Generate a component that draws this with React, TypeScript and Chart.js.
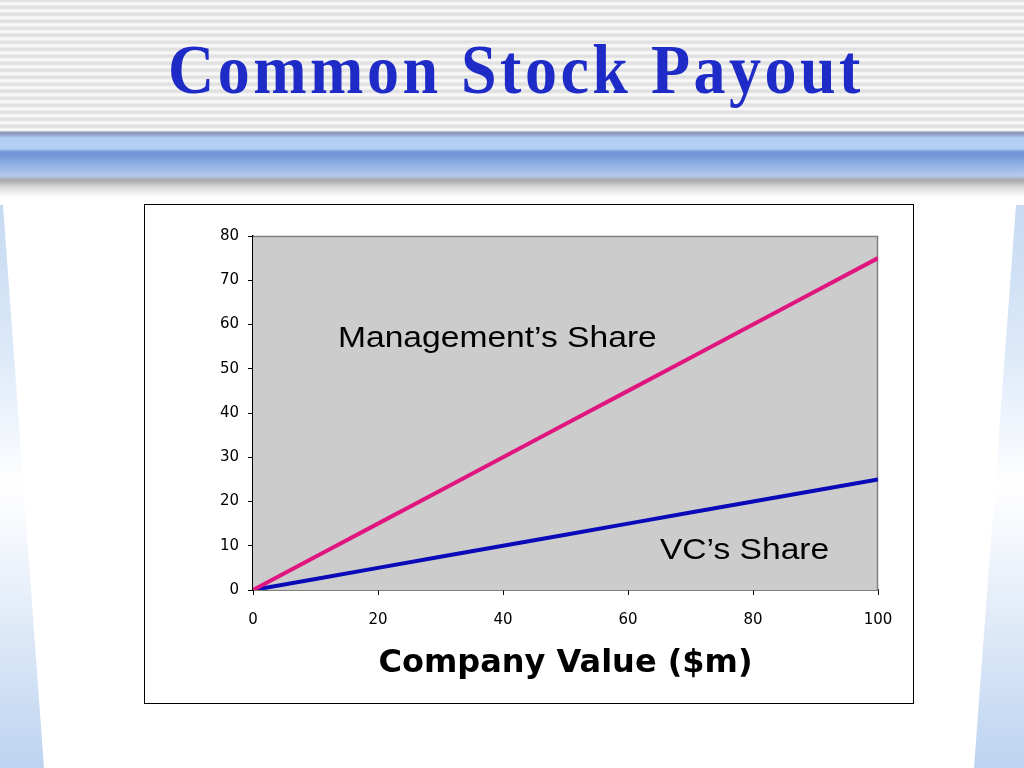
import React, { useEffect, useRef } from "react";
import { Chart, registerables } from "chart.js";

Chart.register(...registerables);

// ---- data ----
const companyValues = [0, 10, 20, 30, 40, 50, 60, 70, 80, 90, 100];
const managementShare = [0, 7.5, 15, 22.5, 30, 37.5, 45, 52.5, 60, 67.5, 75];
const vcShare = [0, 2.5, 5, 7.5, 10, 12.5, 15, 17.5, 20, 22.5, 25];
const seriesNames = ["Management’s Share", "VC’s Share"];
const labelAnchorX = [13.6, 65.1];
const labelAnchorY = [55.0, 6.9];
const titleText = "Common Stock Payout";
const xAxisTitle = "Company Value ($m)";

const MAGENTA = "#E0157F";
const BLUE = "#0A0AB8";

const plotBgPlugin = {
  id: "plotBg",
  beforeDatasetsDraw(chart: any) {
    const { ctx, chartArea } = chart;
    const { left, top, right, bottom } = chartArea;
    ctx.save();
    ctx.fillStyle = "#CCCCCC";
    ctx.fillRect(left, top, right - left, bottom - top);
    ctx.strokeStyle = "#808080";
    ctx.lineWidth = 1.5;
    ctx.beginPath();
    ctx.moveTo(left, top + 0.5);
    ctx.lineTo(right - 0.5, top + 0.5);
    ctx.lineTo(right - 0.5, bottom);
    ctx.stroke();
    ctx.restore();
  },
};

const seriesLabelPlugin = {
  id: "seriesLabels",
  afterDatasetsDraw(chart: any) {
    const { ctx, scales } = chart;
    ctx.save();
    ctx.fillStyle = "#000";
    ctx.font = "30px 'Liberation Sans', Arial, sans-serif";
    ctx.textAlign = "left";
    ctx.textBaseline = "alphabetic";
    seriesNames.forEach((name, i) => {
      const px = scales.x.getPixelForValue(labelAnchorX[i]);
      const py = scales.y.getPixelForValue(labelAnchorY[i]);
      ctx.save();
      ctx.translate(px, py);
      ctx.scale(1.12, 1);
      ctx.fillText(name, 0, 0);
      ctx.restore();
    });
    ctx.restore();
  },
};

function ChartBox() {
  const ref = useRef<HTMLCanvasElement | null>(null);
  useEffect(() => {
    if (!ref.current) return;
    const chart = new Chart(ref.current, {
      type: "line",
      data: {
        datasets: [
          {
            label: seriesNames[0],
            data: companyValues.map((x, i) => ({ x, y: managementShare[i] })),
            borderColor: MAGENTA,
            borderWidth: 4,
            pointRadius: 0,
            fill: false,
          },
          {
            label: seriesNames[1],
            data: companyValues.map((x, i) => ({ x, y: vcShare[i] })),
            borderColor: BLUE,
            borderWidth: 4,
            pointRadius: 0,
            fill: false,
          },
        ],
      },
      options: {
        animation: false,
        responsive: false,
        maintainAspectRatio: false,
        layout: { padding: { left: 0, right: 35, top: 31, bottom: 0 } },
        plugins: { legend: { display: false }, tooltip: { enabled: false } },
        scales: {
          x: {
            type: "linear",
            min: 0,
            max: 100,
            ticks: {
              stepSize: 20,
              color: "#000",
              padding: 16,
              font: { family: "'DejaVu Sans', Verdana, sans-serif", size: 15 },
            },
            grid: { drawOnChartArea: false, drawTicks: true, tickLength: 5, color: "#000" },
            border: { display: true, color: "#000", width: 1.5 },
            title: {
              display: true,
              text: xAxisTitle,
              color: "#000",
              padding: { top: 0, bottom: 20 },
              font: { family: "'DejaVu Sans', Verdana, sans-serif", size: 32, weight: "bold" },
            },
            afterFit: (s: any) => {
              s.height = 113;
            },
          },
          y: {
            type: "linear",
            min: 0,
            max: 80,
            ticks: {
              stepSize: 10,
              color: "#000",
              padding: 9,
              font: { family: "'DejaVu Sans', Verdana, sans-serif", size: 15 },
            },
            grid: { drawOnChartArea: false, drawTicks: true, tickLength: 5, color: "#000" },
            border: { display: true, color: "#000", width: 1.5 },
            afterFit: (s: any) => {
              s.width = 108;
            },
          },
        },
      } as any,
      plugins: [plotBgPlugin, seriesLabelPlugin],
    });
    return () => chart.destroy();
  }, []);
  return <canvas ref={ref} width={768} height={498} style={{ display: "block", width: 768, height: 498 }} />;
}

export default function App() {
  useEffect(() => {
    document.body.style.margin = "0";
  }, []);
  return (
    <div
      style={{
        position: "absolute",
        left: 0,
        top: 0,
        width: 1024,
        height: 768,
        overflow: "hidden",
        background: "#ffffff",
      }}
    >
      {/* striped header */}
      <div
        style={{
          position: "absolute",
          left: 0,
          top: 0,
          width: 1024,
          height: 131,
          background:
            "repeating-linear-gradient(to bottom, #dedede 0px, #e8e8e8 2px, #fbfbfb 3px, #f4f4f4 5px, #e2e2e2 6px, #dedede 7px)",
        }}
      />
      {/* blue band */}
      <div
        style={{
          position: "absolute",
          left: 0,
          top: 131,
          width: 1024,
          height: 66,
          background:
            "linear-gradient(to bottom, #c8c8d0 0px, #8890b4 2px, #9eb4dc 5px, #b2d0f4 7px, #b0cff2 18px, #7a9fdc 20px, #6e94d6 23px, #86a8e0 30px, #b4caee 45px, #b0b8c8 47px, #a8a8a8 49px, #d8d8d8 56px, #ffffff 66px)",
        }}
      />
      {/* left side decoration */}
      <div
        style={{
          position: "absolute",
          left: 0,
          top: 205,
          width: 50,
          height: 563,
          clipPath: "polygon(0 0, 3px 0, 44px 563px, 0 563px)",
          background:
            "linear-gradient(to bottom, #c6daf2 0%, #dbe8f8 25%, #ffffff 50%, #e6eef9 70%, #bcd3f0 100%)",
        }}
      />
      {/* right side decoration */}
      <div
        style={{
          position: "absolute",
          left: 970,
          top: 205,
          width: 54,
          height: 563,
          clipPath: "polygon(46px 0, 54px 0, 54px 563px, 4px 563px)",
          background:
            "linear-gradient(to bottom, #c6daf2 0%, #dbe8f8 25%, #ffffff 50%, #e6eef9 70%, #bcd3f0 100%)",
        }}
      />
      {/* title */}
      <div
        style={{
          position: "absolute",
          left: 4,
          top: 40,
          width: 1024,
          textAlign: "center",
          fontFamily: "'Liberation Serif', 'Times New Roman', serif",
          fontWeight: "bold",
          fontSize: 64,
          lineHeight: "64px",
          letterSpacing: "3.5px",
          color: "#1E2BC6",
          transform: "scaleY(1.1)",
          transformOrigin: "50% 54px",
          whiteSpace: "nowrap",
        }}
      >
        {titleText}
      </div>
      {/* chart box */}
      <div
        style={{
          position: "absolute",
          left: 144,
          top: 204,
          width: 768,
          height: 498,
          border: "1px solid #000",
          background: "#fff",
        }}
      >
        <ChartBox />
      </div>
    </div>
  );
}
